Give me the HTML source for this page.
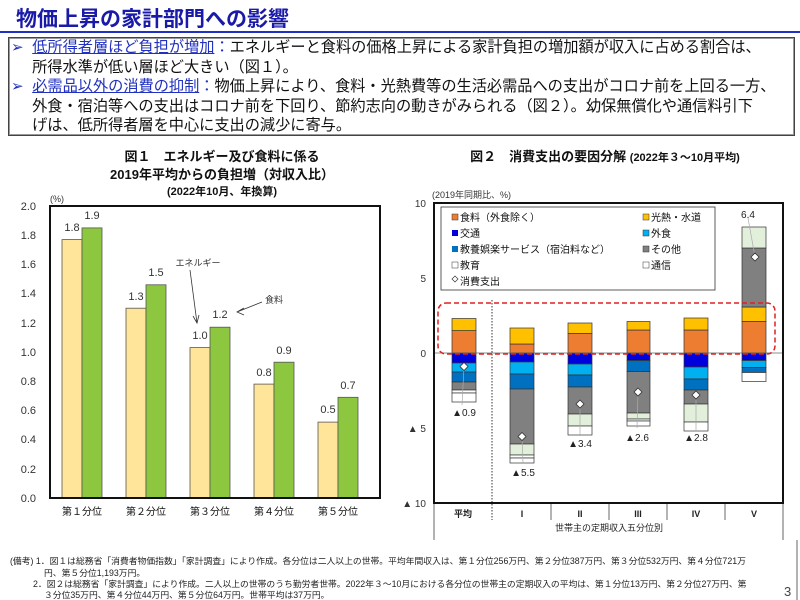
<!DOCTYPE html><html><head><meta charset="utf-8"><style>
body{margin:0;width:800px;height:600px;background:#fff;font-family:"Liberation Sans","Noto Sans CJK JP",sans-serif;position:relative;overflow:hidden}
.a{position:absolute;white-space:nowrap}
</style></head><body>
<div class="a" style="left:16px;top:3px;font-size:21px;font-weight:bold;color:#1a1aa8">物価上昇の家計部門への影響</div>
<div class="a" style="left:0;top:31px;width:800px;height:2px;background:#2030c0"></div>
<div class="a" style="left:8px;top:37px;width:785px;height:97px;border:1px solid #444;box-shadow:0 0 0 1px #999 inset"></div>
<div class="a" style="left:11px;top:38px;font-size:15.2px;line-height:19.5px;color:#111">
<span style="color:#2030c0">➢</span>&nbsp;&nbsp;<span style="color:#2030c0;text-decoration:underline">低所得者層ほど負担が増加</span><span style="color:#2030c0">：</span>エネルギーと食料の価格上昇による家計負担の増加額が収入に占める割合は、<br>&nbsp;&nbsp;&nbsp;&nbsp;&nbsp;所得水準が低い層ほど大きい（図１）。<br>
<span style="color:#2030c0">➢</span>&nbsp;&nbsp;<span style="color:#2030c0;text-decoration:underline">必需品以外の消費の抑制</span><span style="color:#2030c0">：</span>物価上昇により、食料・光熱費等の生活必需品への支出がコロナ前を上回る一方、<br>&nbsp;&nbsp;&nbsp;&nbsp;&nbsp;外食・宿泊等への支出はコロナ前を下回り、節約志向の動きがみられる（図２）。幼保無償化や通信料引下<br>&nbsp;&nbsp;&nbsp;&nbsp;&nbsp;げは、低所得者層を中心に支出の減少に寄与。</div>

<svg class="a" style="left:0;top:0" width="800" height="600" font-family="Liberation Sans,Noto Sans CJK JP,sans-serif">
<g font-weight="bold" font-size="13" text-anchor="middle" fill="#111">
<text x="222" y="161">図１　エネルギー及び食料に係る</text>
<text x="222" y="179">2019年平均からの負担増（対収入比）</text>
<text x="222" y="195" font-size="11">(2022年10月、年換算)</text>
<text x="605" y="161">図２　消費支出の要因分解 <tspan font-size="11">(2022年３～10月平均)</tspan></text>
</g>
<text x="50" y="202" font-size="9" fill="#333">(%)</text>
<g font-size="11" fill="#333" text-anchor="end">
<text x="36" y="210">2.0</text><text x="36" y="239">1.8</text><text x="36" y="268">1.6</text><text x="36" y="297">1.4</text><text x="36" y="327">1.2</text><text x="36" y="356">1.0</text><text x="36" y="385">0.8</text><text x="36" y="414">0.6</text><text x="36" y="443">0.4</text><text x="36" y="473">0.2</text><text x="36" y="502">0.0</text></g>
<g stroke="#555" stroke-width="0.8">
<rect x="62" y="239.6" width="20" height="258.4" fill="#ffe599"/><rect x="82" y="227.9" width="20" height="270.1" fill="#8dc63f"/>
<rect x="126" y="308.2" width="20" height="189.8" fill="#ffe599"/><rect x="146" y="284.8" width="20" height="213.2" fill="#8dc63f"/>
<rect x="190" y="347.6" width="20" height="150.4" fill="#ffe599"/><rect x="210" y="327.2" width="20" height="170.8" fill="#8dc63f"/>
<rect x="254" y="384.1" width="20" height="113.9" fill="#ffe599"/><rect x="274" y="362.2" width="20" height="135.8" fill="#8dc63f"/>
<rect x="318" y="422.1" width="20" height="75.9" fill="#ffe599"/><rect x="338" y="397.3" width="20" height="100.7" fill="#8dc63f"/>
</g>
<rect x="50" y="206" width="330" height="292" fill="none" stroke="#111" stroke-width="2"/>
<g font-size="11" fill="#333" text-anchor="middle">
<text x="72" y="231">1.8</text><text x="92" y="219">1.9</text>
<text x="136" y="300">1.3</text><text x="156" y="276">1.5</text>
<text x="200" y="339">1.0</text><text x="220" y="318">1.2</text>
<text x="264" y="376">0.8</text><text x="284" y="354">0.9</text>
<text x="328" y="413">0.5</text><text x="348" y="389">0.7</text>
<text x="198" y="266" font-size="9">エネルギー</text><text x="274" y="303" font-size="9">食料</text>
</g>
<g stroke="#333" stroke-width="0.8" fill="none"><path d="M190 270 L197 323 M193 316 L197 323 L199 315"/><path d="M262 302 L237 312 M244 308 L237 312 L244 315"/></g>
<g font-size="10" fill="#111" text-anchor="middle">
<text x="82" y="515">第１分位</text><text x="146" y="515">第２分位</text><text x="210" y="515">第３分位</text><text x="274" y="515">第４分位</text><text x="338" y="515">第５分位</text></g>
<text x="432" y="198" font-size="9" fill="#333">(2019年同期比、%)</text>
<g font-size="10" fill="#333" text-anchor="end">
<text x="426" y="207">10</text><text x="426" y="282">5</text><text x="426" y="357">0</text><text x="426" y="432">▲ 5</text><text x="426" y="507">▲ 10</text></g>
<line x1="492" y1="300" x2="492" y2="520" stroke="#333" stroke-dasharray="1.5,1.5"/>
<g stroke="#444" stroke-width="0.8">
<line x1="551" y1="503" x2="551" y2="520"/><line x1="609" y1="503" x2="609" y2="520"/><line x1="667" y1="503" x2="667" y2="520"/><line x1="725" y1="503" x2="725" y2="520"/><line x1="434" y1="503" x2="434" y2="520"/><line x1="783" y1="503" x2="783" y2="520"/></g>
<g stroke="#333" stroke-width="0.7">
<rect x="452" y="330.6" width="24" height="22.4" fill="#ed7d31"/><rect x="452" y="318.5" width="24" height="12.1" fill="#ffc000"/>
<rect x="452" y="353" width="24" height="10" fill="#0000dd"/><rect x="452" y="363" width="24" height="9" fill="#00b0f0"/><rect x="452" y="372" width="24" height="10" fill="#0070c0"/><rect x="452" y="382" width="24" height="8" fill="#808080"/><rect x="452" y="390" width="24" height="3" fill="#fff"/><rect x="452" y="393" width="24" height="9" fill="#fff"/>
<rect x="510" y="344" width="24" height="9" fill="#ed7d31"/><rect x="510" y="328" width="24" height="16" fill="#ffc000"/>
<rect x="510" y="353" width="24" height="9" fill="#0000dd"/><rect x="510" y="362" width="24" height="12" fill="#00b0f0"/><rect x="510" y="374" width="24" height="15" fill="#0070c0"/><rect x="510" y="389" width="24" height="55" fill="#808080"/><rect x="510" y="444" width="24" height="11" fill="#e2efda"/><rect x="510" y="455" width="24" height="3" fill="#fff"/><rect x="510" y="458" width="24" height="5" fill="#fff"/>
<rect x="568" y="333.5" width="24" height="19.5" fill="#ed7d31"/><rect x="568" y="323" width="24" height="10.5" fill="#ffc000"/>
<rect x="568" y="353" width="24" height="11" fill="#0000dd"/><rect x="568" y="364" width="24" height="11" fill="#00b0f0"/><rect x="568" y="375" width="24" height="12" fill="#0070c0"/><rect x="568" y="387" width="24" height="27" fill="#808080"/><rect x="568" y="414" width="24" height="12" fill="#e2efda"/><rect x="568" y="426" width="24" height="9" fill="#fff"/>
<rect x="627" y="330" width="23" height="23" fill="#ed7d31"/><rect x="627" y="321.5" width="23" height="8.5" fill="#ffc000"/>
<rect x="627" y="353" width="23" height="7.5" fill="#0000dd"/><rect x="627" y="360.5" width="23" height="11" fill="#0070c0"/><rect x="627" y="371.5" width="23" height="41.5" fill="#808080"/><rect x="627" y="413" width="23" height="6" fill="#e2efda"/><rect x="627" y="419" width="23" height="2" fill="#fff"/><rect x="627" y="421" width="23" height="5" fill="#fff"/>
<rect x="684" y="330" width="24" height="23" fill="#ed7d31"/><rect x="684" y="318" width="24" height="12" fill="#ffc000"/>
<rect x="684" y="353" width="24" height="14" fill="#0000dd"/><rect x="684" y="367" width="24" height="12" fill="#00b0f0"/><rect x="684" y="379" width="24" height="11" fill="#0070c0"/><rect x="684" y="390" width="24" height="14" fill="#808080"/><rect x="684" y="404" width="24" height="18" fill="#e2efda"/><rect x="684" y="422" width="24" height="9" fill="#fff"/>
<rect x="742" y="321.5" width="24" height="31.5" fill="#ed7d31"/><rect x="742" y="307" width="24" height="14.5" fill="#ffc000"/><rect x="742" y="248" width="24" height="59" fill="#808080"/><rect x="742" y="227" width="24" height="21" fill="#e2efda"/>
<rect x="742" y="353" width="24" height="7.5" fill="#0000dd"/><rect x="742" y="360.5" width="24" height="7" fill="#00b0f0"/><rect x="742" y="367.5" width="24" height="5" fill="#0070c0"/><rect x="742" y="372.5" width="24" height="9" fill="#fff"/>
</g>
<line x1="434" y1="353" x2="783" y2="353" stroke="#666" stroke-width="0.8"/>
<rect x="438" y="303" width="337" height="51" rx="8" fill="none" stroke="#e02020" stroke-width="1.5" stroke-dasharray="5,3"/>
<g stroke="#aaa" stroke-width="0.7"><line x1="464" y1="367" x2="462" y2="405"/><line x1="522" y1="437" x2="523" y2="463"/><line x1="580" y1="405" x2="580" y2="436"/><line x1="638" y1="393" x2="637" y2="428"/><line x1="696" y1="396" x2="696" y2="430"/><line x1="755" y1="257" x2="748" y2="218"/></g>
<g fill="#fff" stroke="#333" stroke-width="0.8">
<path d="M464 362.5l4 4-4 4-4-4z"/><path d="M522 432.5l4 4-4 4-4-4z"/><path d="M580 400l4 4-4 4-4-4z"/><path d="M638 388l4 4-4 4-4-4z"/><path d="M696 391l4 4-4 4-4-4z"/><path d="M755 253l4 4-4 4-4-4z"/></g>
<g font-size="10" fill="#222" text-anchor="middle">
<text x="464" y="416">▲0.9</text><text x="523" y="476">▲5.5</text><text x="580" y="447">▲3.4</text><text x="637" y="441">▲2.6</text><text x="696" y="441">▲2.8</text><text x="748" y="218">6.4</text></g>
<rect x="441" y="207" width="274" height="83" fill="#fff" stroke="#333" stroke-width="0.8"/>
<g font-size="10" fill="#111">
<rect x="452" y="214" width="6" height="6" fill="#ed7d31" stroke="#333" stroke-width="0.5"/><text x="460" y="221">食料（外食除く）</text>
<rect x="643" y="214" width="6" height="6" fill="#ffc000" stroke="#333" stroke-width="0.5"/><text x="651" y="221">光熱・水道</text>
<rect x="452" y="230" width="6" height="6" fill="#0000dd"/><text x="460" y="237">交通</text>
<rect x="643" y="230" width="6" height="6" fill="#00b0f0" stroke="#333" stroke-width="0.5"/><text x="651" y="237">外食</text>
<rect x="452" y="246" width="6" height="6" fill="#0070c0"/><text x="460" y="253">教養娯楽サービス（宿泊料など）</text>
<rect x="643" y="246" width="6" height="6" fill="#808080" stroke="#333" stroke-width="0.5"/><text x="651" y="253">その他</text>
<rect x="452" y="262" width="6" height="6" fill="#fff" stroke="#333" stroke-width="0.5"/><text x="460" y="269">教育</text>
<rect x="643" y="262" width="6" height="6" fill="#fff" stroke="#333" stroke-width="0.5"/><text x="651" y="269">通信</text>
<path d="M455 276l3 3-3 3-3-3z" fill="#fff" stroke="#333" stroke-width="0.7"/><text x="460" y="285">消費支出</text></g>
<rect x="434" y="203" width="349" height="300" fill="none" stroke="#111" stroke-width="2"/>
<g font-size="9" fill="#222" text-anchor="middle" font-weight="bold">
<text x="463" y="517">平均</text><text x="522" y="517">I</text><text x="580" y="517">II</text><text x="638" y="517">III</text><text x="696" y="517">IV</text><text x="754" y="517">V</text>
<text x="609" y="531" font-weight="normal">世帯主の定期収入五分位別</text></g>
<line x1="434" y1="520" x2="434" y2="540" stroke="#666"/><line x1="783" y1="520" x2="783" y2="540" stroke="#666"/>
<g font-size="8.8" fill="#222">
<text x="10" y="564">(備考) 1．図１は総務省「消費者物価指数」「家計調査」により作成。各分位は二人以上の世帯。平均年間収入は、第１分位256万円、第２分位387万円、第３分位532万円、第４分位721万</text>
<text x="44" y="576">円、第５分位1,193万円。</text>
<text x="33" y="587">2．図２は総務省「家計調査」により作成。二人以上の世帯のうち勤労者世帯。2022年３～10月における各分位の世帯主の定期収入の平均は、第１分位13万円、第２分位27万円、第</text>
<text x="44" y="598">３分位35万円、第４分位44万円、第５分位64万円。世帯平均は37万円。</text>
<text x="784" y="596" font-size="13" fill="#444">3</text></g>
<line x1="797" y1="540" x2="797" y2="600" stroke="#666"/>
</svg>
</body></html>
